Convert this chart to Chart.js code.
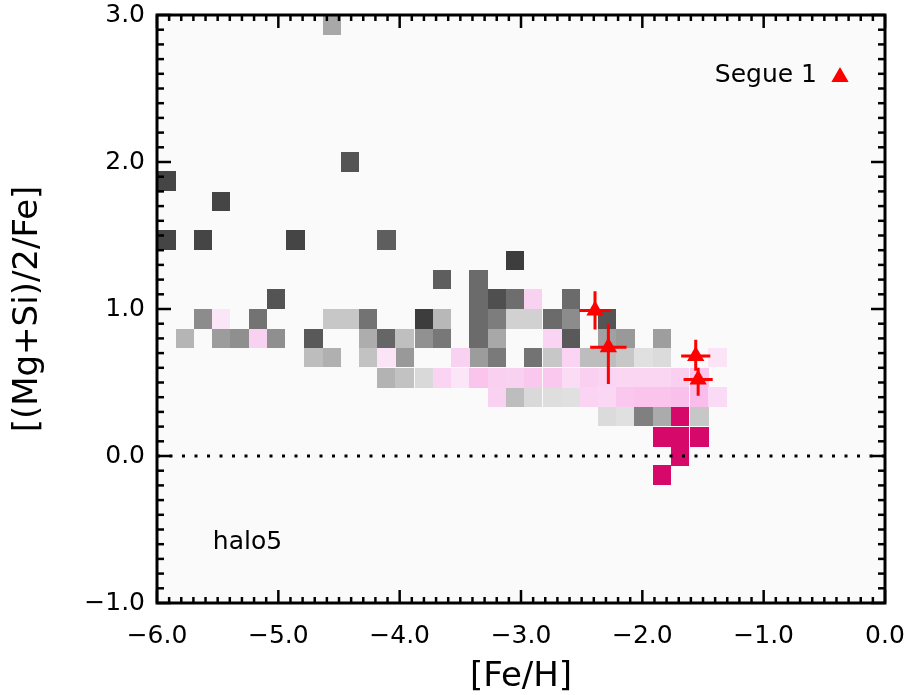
<!DOCTYPE html>
<html>
<head>
<meta charset="utf-8">
<script src="https://cdn.jsdelivr.net/npm/chart.js@4.4.1/dist/chart.umd.min.js"></script>
<style>
  html, body { margin: 0; padding: 0; background: #fff; }
</style>
</head>
<body>
<canvas id="chart" width="920" height="695"></canvas>
<script>
// occupied bins: [Fe/H] centre, [(Mg+Si)/2/Fe] centre, weight
const greyCells = [
  [-4.56, 2.93, 0.34],
  [-4.41, 2.00, 0.67],
  [-5.92, 1.87, 0.73],
  [-5.47, 1.73, 0.73],
  [-5.92, 1.47, 0.73], [-5.62, 1.47, 0.73], [-4.86, 1.47, 0.73], [-4.11, 1.47, 0.63],
  [-3.05, 1.33, 0.76],
  [-3.65, 1.20, 0.63], [-3.35, 1.20, 0.58],
  [-5.02, 1.07, 0.67], [-3.35, 1.07, 0.58], [-3.20, 1.07, 0.69], [-3.05, 1.07, 0.57], [-2.59, 1.07, 0.58],
  [-5.62, 0.93, 0.45], [-5.17, 0.93, 0.55], [-4.56, 0.93, 0.22], [-4.41, 0.93, 0.22], [-4.26, 0.93, 0.55],
  [-3.80, 0.93, 0.76], [-3.65, 0.93, 0.28], [-3.35, 0.93, 0.58], [-3.20, 0.93, 0.51], [-3.05, 0.93, 0.18],
  [-2.90, 0.93, 0.18], [-2.74, 0.93, 0.58], [-2.59, 0.93, 0.45], [-2.29, 0.93, 0.67],
  [-5.77, 0.80, 0.29], [-5.47, 0.80, 0.39], [-5.32, 0.80, 0.44], [-5.02, 0.80, 0.44], [-4.71, 0.80, 0.65],
  [-4.26, 0.80, 0.32], [-4.11, 0.80, 0.60], [-3.96, 0.80, 0.25], [-3.80, 0.80, 0.43], [-3.65, 0.80, 0.53],
  [-3.35, 0.80, 0.58], [-3.20, 0.80, 0.34], [-2.59, 0.80, 0.65], [-2.29, 0.80, 0.37], [-2.14, 0.80, 0.40],
  [-1.84, 0.80, 0.38],
  [-4.71, 0.67, 0.26], [-4.56, 0.67, 0.31], [-4.26, 0.67, 0.24], [-3.96, 0.67, 0.40], [-3.35, 0.67, 0.39],
  [-3.20, 0.67, 0.52], [-2.90, 0.67, 0.55], [-2.74, 0.67, 0.22], [-2.44, 0.67, 0.26], [-2.29, 0.67, 0.26],
  [-2.14, 0.67, 0.22], [-1.99, 0.67, 0.12], [-1.84, 0.67, 0.14],
  [-4.11, 0.53, 0.30], [-3.96, 0.53, 0.24], [-3.80, 0.53, 0.15],
  [-3.05, 0.40, 0.26], [-2.90, 0.40, 0.15], [-2.74, 0.40, 0.13], [-2.59, 0.40, 0.12],
  [-2.29, 0.27, 0.14], [-2.14, 0.27, 0.12], [-1.99, 0.27, 0.50], [-1.84, 0.27, 0.33], [-1.53, 0.27, 0.22]
]

const pinkCells = [
  [-2.90, 1.07, 0.48],
  [-5.47, 0.93, 0.08],
  [-5.17, 0.80, 0.48], [-2.74, 0.80, 0.44],
  [-4.11, 0.67, 0.12], [-3.50, 0.67, 0.48], [-2.59, 0.67, 0.44], [-1.38, 0.67, 0.12],
  [-3.65, 0.53, 0.44], [-3.50, 0.53, 0.08], [-3.35, 0.53, 0.76], [-3.20, 0.53, 0.52], [-3.05, 0.53, 0.48],
  [-2.90, 0.53, 0.68], [-2.74, 0.53, 0.68], [-2.59, 0.53, 0.28], [-2.44, 0.53, 0.52], [-2.29, 0.53, 0.44],
  [-2.14, 0.53, 0.40], [-1.99, 0.53, 0.40], [-1.84, 0.53, 0.40], [-1.69, 0.53, 0.52], [-1.53, 0.53, 0.72],
  [-3.20, 0.40, 0.48], [-2.44, 0.40, 0.44], [-2.29, 0.40, 0.36], [-2.14, 0.40, 0.68], [-1.99, 0.40, 0.76],
  [-1.84, 0.40, 0.76], [-1.69, 0.40, 0.84], [-1.53, 0.40, 0.92], [-1.38, 0.40, 0.32]
]

const dwarfCells = [
  [-1.69, 0.27, 1], [-1.84, 0.13, 1], [-1.69, 0.13, 1], [-1.53, 0.13, 1], [-1.69, 0.00, 1], [-1.84, -0.13, 1]
]

// Segue 1 stars with their uncertainties
const segueFeH = [-2.39, -2.28, -1.56, -1.54]
const segueMgSi = [0.99, 0.74, 0.68, 0.52]
const segueFeErr = [0.13, 0.15, 0.12, 0.12]
const segueErrUp = [0.13, 0.16, 0.11, 0.08]
const segueErrDown = [0.13, 0.25, 0.10, 0.11]

const xTicks = [-6, -5, -4, -3, -2, -1, 0]
const yTicks = [-1, 0, 1, 2, 3]

const binWidth = 0.1514
const binHeight = 4 / 30
const fontName = '"DejaVu Sans", sans-serif'
const red = '#ff0000'

const greyShade = (w) => {
  const g = Math.round(255 * (1 - w))
  return `rgb(${g},${g},${g})`
}
const pinkShade = (w) => `rgb(250,${Math.round(234 - 50 * w)},${Math.round(248 - 14 * w)})`
const dwarfShade = () => '#d6086a'

const fmt = (v) => Number(v).toFixed(1).replace('-', '\u2212')

function triangle (ctx, cx, cy, r) {
  ctx.beginPath()
  ctx.moveTo(cx, cy - r)
  ctx.lineTo(cx + r * Math.sin(2 * Math.PI / 3), cy + r / 2)
  ctx.lineTo(cx - r * Math.sin(2 * Math.PI / 3), cy + r / 2)
  ctx.closePath()
  ctx.fill()
}

const panelPlugin = {
  id: 'panel',
  beforeDraw(chart) {
    const { ctx, chartArea: a } = chart
    ctx.save()
    ctx.fillStyle = '#fafafa'
    ctx.fillRect(a.left, a.top, a.right - a.left, a.bottom - a.top)
    ctx.restore()
  },
  beforeDatasetsDraw(chart) {
    const { ctx, scales: { x, y } } = chart
    const paint = (cells, shade) => {
      cells.forEach(([feh, ratio, w]) => {
        const x0 = Math.round(x.getPixelForValue(feh - binWidth / 2))
        const x1 = Math.round(x.getPixelForValue(feh + binWidth / 2))
        const y0 = Math.round(y.getPixelForValue(ratio + binHeight / 2))
        const y1 = Math.round(y.getPixelForValue(ratio - binHeight / 2))
        ctx.fillStyle = shade(w)
        ctx.fillRect(x0, y0, x1 - x0, y1 - y0)
      })
    }
    ctx.save()
    paint(greyCells, greyShade)
    paint(pinkCells, pinkShade)
    paint(dwarfCells, dwarfShade)

    // error bars of the Segue 1 stars
    ctx.strokeStyle = red
    ctx.lineWidth = 3
    segueFeH.forEach((feh, i) => {
      const py = y.getPixelForValue(segueMgSi[i])
      const px = x.getPixelForValue(feh)
      ctx.beginPath()
      ctx.moveTo(x.getPixelForValue(feh - segueFeErr[i]), py)
      ctx.lineTo(x.getPixelForValue(feh + segueFeErr[i]), py)
      ctx.moveTo(px, y.getPixelForValue(segueMgSi[i] + segueErrUp[i]))
      ctx.lineTo(px, y.getPixelForValue(segueMgSi[i] - segueErrDown[i]))
      ctx.stroke()
    })
    ctx.restore()
  },
  afterDatasetsDraw(chart) {
    const { ctx, chartArea: a, scales: { x, y } } = chart
    const seg = (x0, y0, x1, y1) => {
      ctx.beginPath()
      ctx.moveTo(x0, y0)
      ctx.lineTo(x1, y1)
      ctx.stroke()
    }
    ctx.save()
    ctx.strokeStyle = '#000'
    ctx.lineWidth = 2.5
    // inward tick marks on all four sides, minor every 0.1
    for (let k = 0; k <= Math.round((x.max - x.min) * 10); k++) {
      const px = x.getPixelForValue(x.min + k / 10)
      const len = k % 10 === 0 ? 13 : 6
      seg(px, a.bottom, px, a.bottom - len)
      seg(px, a.top, px, a.top + len)
    }
    for (let k = 0; k <= Math.round((y.max - y.min) * 10); k++) {
      const py = y.getPixelForValue(y.min + k / 10)
      const len = k % 10 === 0 ? 14 : 7
      seg(a.left, py, a.left + len, py)
      seg(a.right, py, a.right - len, py)
    }
    ctx.lineWidth = 3
    ctx.strokeRect(a.left, a.top, a.right - a.left, a.bottom - a.top)

    ctx.fillStyle = '#000'
    ctx.font = '25px ' + fontName
    ctx.textBaseline = 'middle'
    ctx.fillText('halo5', x.getPixelForValue(-5.54), y.getPixelForValue(-0.59))

    // key in the upper right corner: label, then the marker
    ctx.textAlign = 'right'
    ctx.fillText(chart.data.datasets[1].label, a.right - 68, a.top + 60)
    ctx.fillStyle = red
    triangle(ctx, a.right - 45, a.top + 62, 10)
    ctx.restore()
  }
}

new Chart(document.getElementById('chart'), {
  type: 'scatter',
  data: {
    datasets: [
      {
        type: 'line',
        label: 'solar',
        data: [{ x: xTicks[0], y: 0 }, { x: xTicks[xTicks.length - 1], y: 0 }],
        borderColor: '#000',
        borderWidth: 3,
        borderDash: [3, 9.5],
        pointRadius: 0,
        fill: false
      },
      {
        label: 'Segue 1',
        data: segueFeH.map((v, i) => ({ x: v, y: segueMgSi[i] })),
        pointStyle: 'triangle',
        pointRadius: 10,
        backgroundColor: red,
        borderColor: red,
        borderWidth: 0
      }
    ]
  },
  options: {
    responsive: false,
    devicePixelRatio: 1,
    animation: false,
    events: [],
    layout: { padding: { top: 15, right: 35, bottom: 0, left: 0 } },
    plugins: {
      tooltip: { enabled: false },
      legend: { display: false }
    },
    scales: {
      x: {
        type: 'linear',
        min: xTicks[0],
        max: xTicks[xTicks.length - 1],
        afterBuildTicks: (s) => { s.ticks = xTicks.map((v) => ({ value: v })) },
        afterFit: (s) => {
          s.height = 92
          s.paddingLeft = 0
          s.paddingRight = 0
        },
        grid: { display: false, drawTicks: false },
        border: { display: false },
        ticks: {
          padding: 18,
          color: '#000',
          maxRotation: 0,
          autoSkip: false,
          font: { family: fontName, size: 25 },
          callback: (v) => fmt(v)
        },
        title: {
          display: true,
          text: '[Fe/H]',
          color: '#000',
          padding: { top: 0, bottom: 1 },
          font: { family: fontName, size: 34, lineHeight: 1 }
        }
      },
      y: {
        type: 'linear',
        min: yTicks[0],
        max: yTicks[yTicks.length - 1],
        afterBuildTicks: (s) => { s.ticks = yTicks.map((v) => ({ value: v })) },
        afterFit: (s) => {
          s.width = 157
          s.paddingTop = 0
          s.paddingBottom = 0
        },
        grid: { display: false, drawTicks: false },
        border: { display: false },
        ticks: {
          padding: 12,
          color: '#000',
          autoSkip: false,
          font: { family: fontName, size: 25 },
          callback: (v) => fmt(v)
        },
        title: {
          display: true,
          text: '[(Mg+Si)/2/Fe]',
          color: '#000',
          padding: { top: 11, bottom: 0 },
          font: { family: fontName, size: 34, lineHeight: 1 }
        }
      }
    }
  },
  plugins: [panelPlugin]
})
</script>
</body>
</html>
